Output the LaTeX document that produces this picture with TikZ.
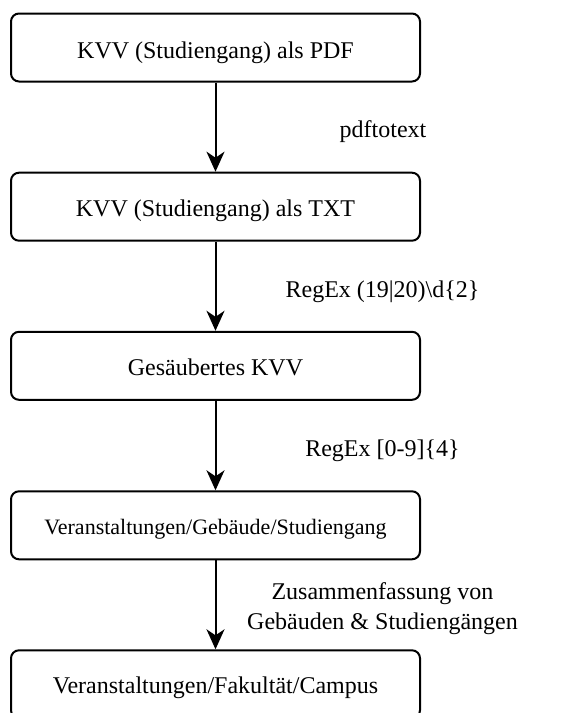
\documentclass[tikz,border=0pt]{standalone}
\usepackage{fontspec}
\setmainfont{Liberation Serif}
\usetikzlibrary{arrows.meta}
\tikzset{
  stepbox/.style={draw, line width=2pt, rounded corners=8pt, minimum width=409pt, minimum height=68pt, inner sep=0pt, text height=20pt, text depth=0pt, font=\fontsize{24}{28}\selectfont},
  arr/.style={line width=2pt, -{Stealth[length=20pt, width=18pt, inset=6pt]}},
  lbl/.style={anchor=base, align=center, inner sep=0pt, font=\fontsize{24}{30}\selectfont}
}
\begin{document}
\begin{tikzpicture}[x=1pt,y=-1pt]
\useasboundingbox (0,0) rectangle (582,713);
\clip (0,0) rectangle (582,713);
\node[stepbox, text height=22pt] (b1) at (215.5,47.5) {KVV (Studiengang) als PDF};
\node[stepbox] (b2) at (215.5,206.7) {KVV (Studiengang) als TXT};
\node[stepbox, text height=18.4pt] (b3) at (215.5,365.8) {Gesäubertes KVV};
\node[stepbox, text height=17.4pt, font=\fontsize{22}{26}\selectfont] (b4) at (215.5,525.3) {Veranstaltungen/Gebäude/Studiengang};
\node[stepbox, text height=18pt] (b5) at (215.5,684.3) {Veranstaltungen/Fakultät/Campus};
\draw[arr] (b1) -- (b2);
\draw[arr] (b2) -- (b3);
\draw[arr] (b3) -- (b4);
\draw[arr] (b4) -- (b5);
\node[lbl] (l1) at (383,137) {pdftotext};
\node[lbl] (l2) at (382.5,297) {RegEx (19|20)\textbackslash d\{2\}};
\node[lbl] (l3) at (382.5,456.7) {RegEx [0-9]\{4\}};
\node[lbl] (l4) at (382.5,629) {Zusammenfassung von\\Gebäuden \& Studiengängen};
\end{tikzpicture}
\end{document}
